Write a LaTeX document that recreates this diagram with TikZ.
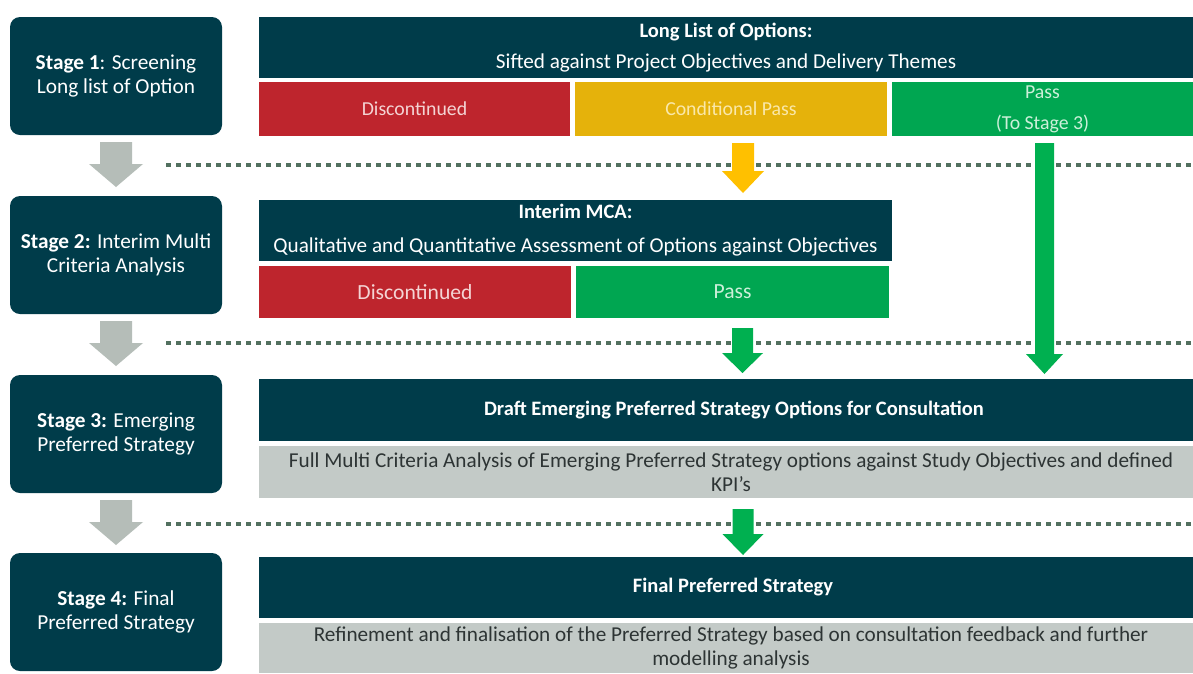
\documentclass[tikz,border=0pt]{standalone}
\usepackage{fontspec}
\setmainfont{Carlito}
\usetikzlibrary{calc}
\definecolor{cteal}{RGB}{0,60,74}
\definecolor{cred}{RGB}{190,37,45}
\definecolor{cyel}{RGB}{229,178,11}
\definecolor{cgreen}{RGB}{0,166,81}
\definecolor{ayel}{RGB}{255,192,0}
\definecolor{agreen}{RGB}{0,176,80}
\definecolor{agrey}{RGB}{181,189,184}
\definecolor{bgrey}{RGB}{195,202,199}
\definecolor{cdots}{RGB}{82,112,95}
\definecolor{tred}{RGB}{244,212,212}
\definecolor{tyel}{RGB}{250,232,170}
\definecolor{tgreen}{RGB}{205,240,218}
\definecolor{tdark}{RGB}{45,52,52}
\newcommand\blockarrow[6]{\fill[#1] let \p1=(#2), \p2=(#3) in
  (\x1-#4pt,\y1) -- (\x1+#4pt,\y1) -- (\x1+#4pt,\y2+#6pt) -- (\x1+#5pt,\y2+#6pt)
  -- (\x1,\y2) -- (\x1-#5pt,\y2+#6pt) -- (\x1-#4pt,\y2+#6pt) -- cycle;}
\newcommand\bt[1]{{\fontsize{20.5}{24}\selectfont\bfseries #1}}
\begin{document}
\begin{tikzpicture}[x=1pt,y=-1pt,
  box/.style={anchor=north west, inner sep=0pt, outer sep=0pt, align=center,
    font=\fontsize{21.2}{24}\selectfont},
  stagebox/.style={box, fill=cteal, text=white, rounded corners=10pt,
    minimum width=212pt, minimum height=118pt, font=\fontsize{21.3}{24}\selectfont},
  headbox/.style={box, fill=cteal, text=white},
  redbox/.style={box, fill=cred, text=tred},
  yelbox/.style={box, fill=cyel, text=tyel},
  greenbox/.style={box, fill=cgreen, text=tgreen},
  greybox/.style={box, fill=bgrey, text=tdark},
  rowone/.style={font=\fontsize{19.8}{24}\selectfont},
  rowtwo/.style={font=\fontsize{21.6}{24}\selectfont},
  label text/.style={inner sep=0pt, align=center, font=\fontsize{21.2}{24}\selectfont},
  dotline/.style={draw=cdots, line width=4pt, dash pattern=on 5pt off 5pt}]
\useasboundingbox[fill=white] (0,0) rectangle (1193,673);

% stage boxes
\node[stagebox] (s1) at (10,17) {\textbf{Stage 1}: Screening\\Long list of Option};
\node[stagebox] (s2) at (10,196) {\textbf{Stage 2:} Interim Multi\\Criteria Analysis};
\node[stagebox] (s3) at (10,375) {\textbf{Stage 3:} Emerging\\Preferred Strategy};
\node[stagebox] (s4) at (10,553) {\textbf{Stage 4:} Final\\Preferred Strategy};

% stage 1 row
\node[headbox, minimum width=934pt, minimum height=61pt] (h1) at (259,17)
  {\bt{Long List of Options:}\\[7pt]Sifted against Project Objectives and Delivery Themes};
\node[redbox, rowone, minimum width=311pt, minimum height=54pt] (disc1) at (259,82) {Discontinued};
\node[yelbox, rowone, minimum width=312pt, minimum height=54pt] (cond) at (575,82) {Conditional Pass};
\node[greenbox, rowone, minimum width=301pt, minimum height=54pt] (pass1) at (892,82) {Pass\\[7pt](To Stage 3)};

% stage 2 row
\node[headbox, minimum width=633pt, minimum height=61pt] (h2) at (259,200)
  {\bt{Interim MCA:}\\[10pt]Qualitative and Quantitative Assessment of Options against Objectives};
\node[redbox, rowtwo, minimum width=312pt, minimum height=52pt] (disc2) at (259,266) {Discontinued};
\node[greenbox, rowtwo, minimum width=313pt, minimum height=52pt] (ipass) at (576,266) {Pass};

% stage 3 row
\node[headbox, minimum width=934pt, minimum height=62pt] (h3) at (259,379) {};
\node[label text, text=white] (h3t) at ($(h3.center)+(8,0)$)
  {\bt{Draft Emerging Preferred Strategy Options for Consultation}};
\node[greybox, minimum width=934pt, minimum height=52pt] (g3) at (259,446) {};
\node[label text, text=tdark] (g3t) at ($(g3.center)+(5,0)$)
  {Full Multi Criteria Analysis of Emerging Preferred Strategy options against Study Objectives and defined\\KPI’s};

% stage 4 row
\node[headbox, minimum width=934pt, minimum height=61pt] (h4) at (259,557) {};
\node[label text, text=white] (h4t) at ($(h4.center)+(7,0)$)
  {\bt{Final Preferred Strategy}};
\node[greybox, minimum width=934pt, minimum height=50pt] (g4) at (259,623) {};
\node[label text, text=tdark] (g4t) at ($(g4.center)+(5,0)$)
  {Refinement and finalisation of the Preferred Strategy based on consultation feedback and further\\modelling analysis};

% dotted separators
\coordinate (d1a) at (166,165); \coordinate (d1b) at (1193,165);
\coordinate (d2a) at (166,343); \coordinate (d2b) at (1193,343);
\coordinate (d3a) at (166,524); \coordinate (d3b) at (1193,524);
\draw[dotline] (d1a) -- (d1b);
\draw[dotline] (d2a) -- (d2b);
\draw[dotline] (d3a) -- (d3b);

% grey stage arrows
\blockarrow{agrey}{$(s1.south)+(0,7)$}{$(s2.north)+(0,-9)$}{16}{27}{23}
\blockarrow{agrey}{$(s2.south)+(0,7)$}{$(s3.north)+(0,-9)$}{16}{27}{23}
\blockarrow{agrey}{$(s3.south)+(0,7)$}{$(s4.north)+(0,-8)$}{16}{27}{23}

% coloured arrows
\blockarrow{ayel}{$(cond.south)+(12,7)$}{$(h2.north)+(168,-7)$}{11}{21}{22}
\blockarrow{agreen}{$(pass1.south)+(2,7)$}{$(h3.north)+(319,-5)$}{9.5}{18.5}{20}
\blockarrow{agreen}{$(ipass.south)+(10,10)$}{$(h3.north)+(17,-6)$}{10.5}{20.5}{20}
\blockarrow{agreen}{$(g3.south)+(17,11)$}{$(h4.north)+(17,-2)$}{10.5}{20.5}{21}
\end{tikzpicture}
\end{document}
